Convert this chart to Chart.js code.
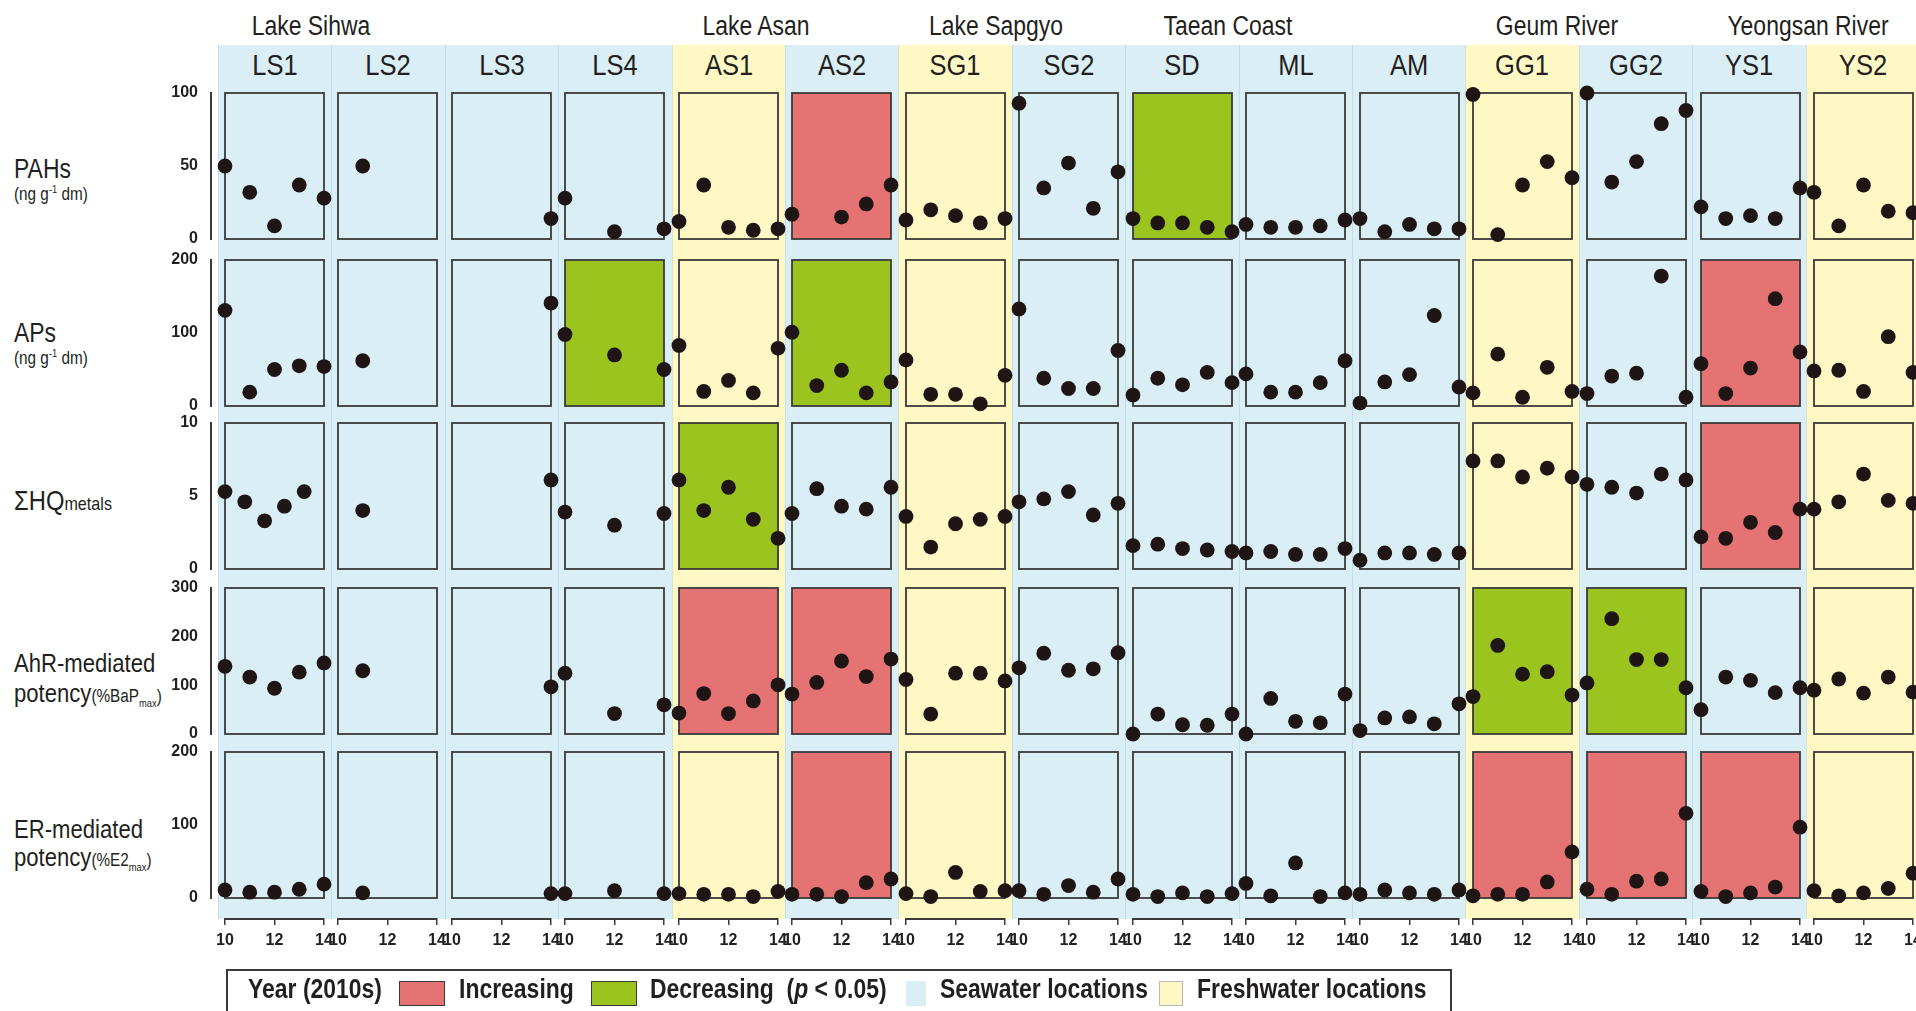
<!DOCTYPE html>
<html lang="en">
<head>
<meta charset="utf-8">
<title>Sediment contaminants and potencies by site, 2010–2014</title>
<script src="https://cdn.jsdelivr.net/npm/chart.js@4.4.1/dist/chart.umd.min.js"></script>
<style>
  html, body { margin: 0; padding: 0; background: #ffffff; }
  #figure {
    position: relative; width: 1916px; height: 1011px; overflow: hidden;
    font-family: 'Liberation Sans', Arial, sans-serif;
    color: #231f20;
  }
  #figure > * { position: absolute; }
  /* condensed lettering: regular face squeezed horizontally */
  .txt { white-space: nowrap; line-height: 1; transform: scaleX(0.85); transform-origin: 0 0; }
  .ctr { white-space: nowrap; line-height: 1; transform: translateX(-50%) scaleX(0.85); transform-origin: 50% 0; }
  .sup { font-size: 11px; position: relative; top: -7px; }
  .sub { font-size: 11px; position: relative; top: 5px; }
  .legend { box-sizing: border-box; border: 2px solid #3a3a3a; background: #fff; }
  .legend > * { position: absolute; }
  .legend .txt { font-size: 27px; font-weight: bold; top: 5px; transform: scaleX(0.85); }
  .sw { box-sizing: border-box; }
</style>
</head>
<body>
<div id="figure"></div>
<script>
// ---------------- data ----------------
const sites = ['LS1', 'LS2', 'LS3', 'LS4', 'AS1', 'AS2', 'SG1', 'SG2', 'SD', 'ML', 'AM', 'GG1', 'GG2', 'YS1', 'YS2'];
const siteWater = ['sea', 'sea', 'sea', 'sea', 'fresh', 'sea', 'fresh', 'sea', 'sea', 'sea', 'sea', 'fresh', 'sea', 'sea', 'fresh'];
const regions = ['Lake Sihwa', 'Lake Asan', 'Lake Sapgyo', 'Taean Coast', 'Geum River', 'Yeongsan River'];
const years = [10, 11, 12, 13, 14];
const yearTicks = [10, 12, 14];
// LS1 metals were plotted at these (uneven) year positions
const hqYearsLS1 = [10, 10.8, 11.6, 12.4, 13.2];

// PAHs (ng/g dm), one row of five years per site
const pahs = [
  [50, 32, 9, 37, 28], [null, 50, null, null, null], [null, null, null, null, 14], [28, null, 5, null, 7],
  [12, 37, 8, 6, 7], [17, null, 15, 24, 37], [13, 20, 16, 11, 14], [93, 35, 52, 21, 46],
  [14, 11, 11, 8, 5], [10, 8, 8, 9, 13], [14, 5, 10, 7, 7], [99, 3, 37, 53, 42],
  [100, 39, 53, 79, 88], [22, 14, 16, 14, 35], [32, 9, 37, 19, 18]
];
const pahsTicks = [0, 50, 100];
const pahsTrend = ['', '', '', '', '', 'I', '', '', 'D', '', '', '', '', '', ''];

// APs (ng/g dm)
const aps = [
  [131, 19, 50, 55, 54], [null, 62, null, null, null], [null, null, null, null, 141], [98, null, 70, null, 50],
  [83, 20, 35, 18, 79], [101, 28, 49, 18, 33], [63, 16, 16, 3, 42], [133, 38, 24, 24, 76],
  [15, 38, 29, 46, 32], [44, 19, 19, 32, 62], [4, 33, 43, 124, 26], [18, 71, 12, 53, 20],
  [17, 41, 45, 178, 12], [58, 17, 52, 147, 74], [48, 49, 20, 95, 46]
];
const apsTicks = [0, 100, 200];
const apsTrend = ['', '', '', 'D', '', 'D', '', '', '', '', '', '', '', 'I', ''];

// Sum of hazard quotients, metals
const hqMetals = [
  [5.3, 4.6, 3.3, 4.3, 5.3], [null, 4.0, null, null, null], [null, null, null, null, 6.1], [3.9, null, 3.0, null, 3.8],
  [6.1, 4.0, 5.6, 3.4, 2.1], [3.8, 5.5, 4.3, 4.1, 5.6], [3.6, 1.5, 3.1, 3.4, 3.6], [4.6, 4.8, 5.3, 3.7, 4.5],
  [1.6, 1.7, 1.4, 1.3, 1.2], [1.1, 1.2, 1.0, 1.0, 1.4], [0.6, 1.1, 1.1, 1.0, 1.1], [7.4, 7.4, 6.3, 6.9, 6.3],
  [5.8, 5.6, 5.2, 6.5, 6.1], [2.2, 2.1, 3.2, 2.5, 4.1], [4.1, 4.6, 6.5, 4.7, 4.5]
];
const hqTicks = [0, 5, 10];
const hqTrend = ['', '', '', '', 'D', '', '', '', '', '', '', '', '', 'I', ''];

// AhR-mediated potency (%BaPmax)
const ahrPotency = [
  [139, 117, 94, 127, 146], [null, 130, null, null, null], [null, null, null, null, 97], [125, null, 42, null, 60],
  [43, 83, 42, 68, 101], [82, 106, 150, 118, 154], [112, 41, 125, 125, 109], [136, 166, 131, 134, 167],
  [0, 41, 19, 18, 41], [0, 73, 26, 23, 82], [7, 33, 35, 21, 62], [77, 182, 123, 128, 80],
  [105, 237, 153, 153, 95], [50, 117, 110, 85, 95], [90, 113, 84, 117, 86]
];
const ahrTicks = [0, 100, 200, 300];
const ahrTrend = ['', '', '', '', 'I', 'I', '', '', '', '', '', 'D', 'D', '', ''];

// ER-mediated potency (%E2max)
const erPotency = [
  [11, 8, 8, 12, 19], [null, 7, null, null, null], [null, null, null, null, 6], [6, null, 10, null, 6],
  [6, 5, 5, 2, 9], [5, 5, 2, 21, 26], [6, 2, 35, 9, 10], [10, 5, 17, 8, 26],
  [5, 2, 7, 2, 6], [20, 3, 48, 2, 7], [5, 11, 7, 5, 11], [3, 5, 5, 22, 63],
  [12, 5, 23, 26, 116], [9, 2, 7, 15, 97], [10, 3, 7, 13, 34]
];
const erTicks = [0, 100, 200];
const erTrend = ['', '', '', '', '', 'I', '', '', '', '', '', 'I', 'I', 'I', ''];

// ---------------- layout & style ----------------
const SANS = "'Liberation Sans', Arial, sans-serif";
const INK = '#231f20';
const DOT = '#201515';
const FRAME = '#3a3a3a';
const WATER_FILL = { sea: '#daeef6', fresh: '#fff8c5' };
const TREND_FILL = { I: '#e57373', D: '#9bc41f' };

const COL_X0 = 218, COL_W = 113.4, COL_TOP = 45, COL_BOTTOM = 919;
const BOX_X0 = 224.5, BOX_STEP = 113.54, BOX_W = 99, BOX_H = 146;
const ROW_TOPS = [93, 260, 423, 588, 752];
const REGION_X = [311, 756, 996, 1228, 1557, 1808];
const PAD = 10;

const rows = [
  { values: pahs, ticks: pahsTicks, trend: pahsTrend },
  { values: aps, ticks: apsTicks, trend: apsTrend },
  { values: hqMetals, ticks: hqTicks, trend: hqTrend, xOverride: { 0: hqYearsLS1 } },
  { values: ahrPotency, ticks: ahrTicks, trend: ahrTrend },
  { values: erPotency, ticks: erTicks, trend: erTrend }
];

Chart.defaults.font.family = SANS;
Chart.defaults.color = INK;
Chart.defaults.animation = false;

const fig = document.getElementById('figure');

function addBlock(html) {
  fig.insertAdjacentHTML('beforeend', html);
}
function addCanvas(left, top, w, h) {
  const c = document.createElement('canvas');
  c.width = w; c.height = h;
  c.style.cssText = `left:${left}px;top:${top}px;width:${w}px;height:${h}px;`;
  fig.appendChild(c);
  return c;
}
const boxLeft = i => Math.round(BOX_X0 + i * BOX_STEP);

// site column backgrounds and site names
sites.forEach((s, i) => {
  const l = Math.round(COL_X0 + i * COL_W);
  const r = Math.round(COL_X0 + (i + 1) * COL_W);
  addBlock(`<div style="left:${l}px;top:${COL_TOP}px;width:${r - l}px;height:${COL_BOTTOM - COL_TOP}px;background:${WATER_FILL[siteWater[i]]};box-shadow:inset 1px 0 0 rgba(160,205,226,0.45);"></div>`);
  addBlock(`<div class="ctr" style="left:${(l + r) / 2}px;top:50px;font-size:30px;">${s}</div>`);
});

// region headings
regions.forEach((name, k) => {
  addBlock(`<div class="ctr" style="left:${REGION_X[k]}px;top:13px;font-size:27px;">${name}</div>`);
});

// row headings
addBlock(`<div class="txt" style="left:14px;top:156px;font-size:27px;">PAHs</div>`);
addBlock(`<div class="txt" style="left:14px;top:185px;font-size:18px;">(ng g<span class="sup">-1</span> dm)</div>`);
addBlock(`<div class="txt" style="left:14px;top:320px;font-size:27px;">APs</div>`);
addBlock(`<div class="txt" style="left:14px;top:349px;font-size:18px;">(ng g<span class="sup">-1</span> dm)</div>`);
addBlock(`<div class="txt" style="left:14px;top:487px;font-size:28px;">ΣHQ<span style="font-size:19px;">metals</span></div>`);
addBlock(`<div class="txt" style="left:14px;top:650px;font-size:26px;">AhR-mediated</div>`);
addBlock(`<div class="txt" style="left:14px;top:680px;font-size:26px;">potency<span style="font-size:18px;">(%BaP<span class="sub">max</span>)</span></div>`);
addBlock(`<div class="txt" style="left:14px;top:816px;font-size:26px;">ER-mediated</div>`);
addBlock(`<div class="txt" style="left:14px;top:844px;font-size:26px;">potency<span style="font-size:18px;">(%E2<span class="sub">max</span>)</span></div>`);

// panel frame and trend fill, drawn under the points
const panelBox = {
  id: 'panelBox',
  beforeDatasetsDraw(chart, args, opts) {
    const { ctx, chartArea: a } = chart;
    ctx.save();
    if (opts.fill) {
      ctx.fillStyle = opts.fill;
      ctx.fillRect(a.left, a.top, a.width, a.height);
    }
    ctx.strokeStyle = FRAME;
    ctx.lineWidth = 1.8;
    ctx.strokeRect(a.left, a.top, a.width, a.height);
    ctx.restore();
  }
};

const tickFont = { family: SANS, size: 16, weight: 'bold' };

rows.forEach((row, r) => {
  const top = ROW_TOPS[r];
  const yMax = row.ticks[row.ticks.length - 1];

  // one small scatter chart per site
  sites.forEach((s, i) => {
    const xs = (row.xOverride && row.xOverride[i]) || years;
    const pts = [];
    row.values[i].forEach((v, k) => { if (v !== null) pts.push({ x: xs[k], y: v }); });
    const cv = addCanvas(boxLeft(i) - PAD, top - PAD, BOX_W + 2 * PAD, BOX_H + 2 * PAD);
    new Chart(cv, {
      type: 'scatter',
      data: { datasets: [{ data: pts, pointRadius: 7.4, pointHoverRadius: 7.4, pointBackgroundColor: DOT, pointBorderWidth: 0, clip: false }] },
      options: {
        responsive: false,
        events: [],
        layout: { padding: PAD },
        plugins: { legend: { display: false }, tooltip: { enabled: false }, panelBox: { fill: TREND_FILL[row.trend[i]] || null } },
        scales: {
          x: { type: 'linear', min: 10, max: 14, display: false },
          y: { type: 'linear', min: 0, max: yMax, display: false }
        }
      },
      plugins: [panelBox]
    });
  });

  // shared value axis at the left of the row
  const AXIS_W = 71, AX_PAD_Y = 32;
  const cv = addCanvas(211 - AXIS_W, top - AX_PAD_Y, AXIS_W + 8, BOX_H + 2 * AX_PAD_Y);
  new Chart(cv, {
    type: 'scatter',
    data: { datasets: [] },
    options: {
      responsive: false,
      events: [],
      layout: { padding: { top: AX_PAD_Y, bottom: AX_PAD_Y, left: 0, right: 0 } },
      plugins: { legend: { display: false }, tooltip: { enabled: false } },
      scales: {
        x: { type: 'linear', min: 10, max: 14, display: false },
        y: {
          type: 'linear', position: 'left', min: 0, max: yMax,
          afterFit: sc => { sc.width = AXIS_W; },
          afterBuildTicks: sc => { sc.ticks = row.ticks.map(v => ({ value: v })); },
          grid: { display: false, drawTicks: false },
          border: { display: true, color: FRAME, width: 2 },
          ticks: { padding: 13, font: tickFont, color: INK }
        }
      }
    }
  });
});

// year axis under every site column
sites.forEach((s, i) => {
  const H = 52, AX_PAD = 26, AREA_H = 14;
  const cv = addCanvas(boxLeft(i) - AX_PAD, COL_BOTTOM - AREA_H, BOX_W + 2 * AX_PAD, H);
  new Chart(cv, {
    type: 'scatter',
    data: { datasets: [] },
    options: {
      responsive: false,
      events: [],
      layout: { padding: { left: AX_PAD, right: AX_PAD, top: 0, bottom: 0 } },
      plugins: { legend: { display: false }, tooltip: { enabled: false } },
      scales: {
        y: { display: false, min: 0, max: 1 },
        x: {
          type: 'linear', position: 'bottom', min: 10, max: 14,
          afterFit: sc => { sc.height = H - AREA_H; },
          afterBuildTicks: sc => { sc.ticks = yearTicks.map(v => ({ value: v })); },
          grid: { display: true, drawOnChartArea: false, drawTicks: true, tickLength: 6, color: FRAME, lineWidth: 1.5 },
          border: { display: true, color: FRAME, width: 2 },
          ticks: { padding: 6, font: tickFont, color: INK, maxRotation: 0, autoSkip: false }
        }
      }
    }
  });
});

// legend strip
addBlock(`<div class="legend" style="left:226px;top:969px;width:1226px;height:45px;">
  <div class="txt" style="left:20px;">Year (2010s)</div>
  <div class="sw" style="left:171px;top:10px;width:46px;height:25px;background:${TREND_FILL.I};border:1.5px solid #3a3a3a;"></div>
  <div class="txt" style="left:231px;">Increasing</div>
  <div class="sw" style="left:363px;top:10px;width:46px;height:25px;background:${TREND_FILL.D};border:1.5px solid #3a3a3a;"></div>
  <div class="txt" style="left:422px;">Decreasing&nbsp; (<i>p</i> &lt; 0.05)</div>
  <div class="sw" style="left:678px;top:10px;width:20px;height:25px;background:${WATER_FILL.sea};"></div>
  <div class="txt" style="left:712px;">Seawater locations</div>
  <div class="sw" style="left:931px;top:10px;width:24px;height:25px;background:${WATER_FILL.fresh};border:1px solid #b9b9b9;"></div>
  <div class="txt" style="left:969px;">Freshwater locations</div>
</div>`);
</script>
</body>
</html>
